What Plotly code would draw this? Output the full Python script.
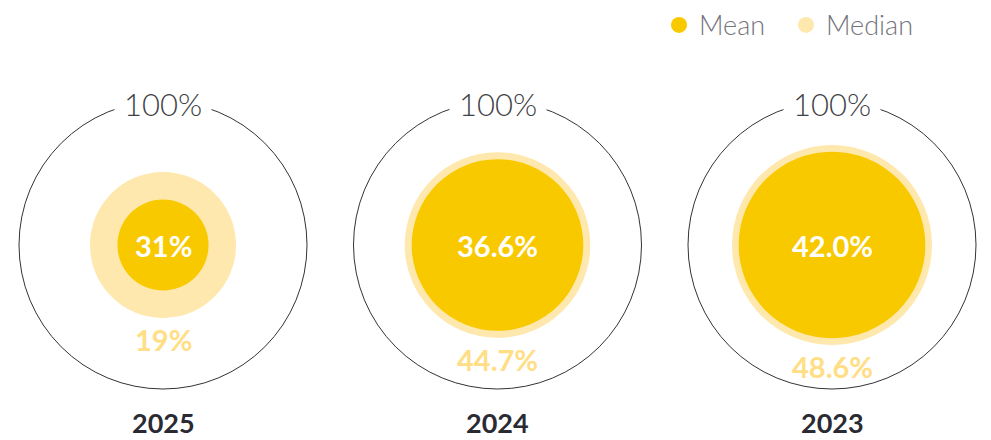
import math
import plotly.graph_objects as go

# ---- data ----
years = ["2025", "2024", "2023"]
mean_values = [31, 36.6, 42.0]          # labelled mean (%)
median_values = [19, 44.7, 48.6]        # labelled median (%)
mean_labels = ["31%", "36.6%", "42.0%"]
median_labels = ["19%", "44.7%", "48.6%"]
total_value = [100, 100, 100]
total_labels = ["100%", "100%", "100%"]
# circle areas as drawn in the source (2025 circles are not drawn to their labels)
mean_drawn = [10.0, 35.5, 42.0]
median_drawn = [25.7, 41.5, 48.2]

MEAN_COLOR = "#F9C900"
MEDIAN_COLOR = "#FFE8AD"
MEDIAN_TEXT = "#FFDE85"
DARK = "#2A2A33"

x = list(range(len(years)))
OUTER_R = 144.0
sizeref = max(total_value) / (2 * OUTER_R ** 2)

fig = go.Figure()

# outer 100% ring
fig.add_trace(go.Scatter(
    x=x, y=[0] * len(x), mode="markers", showlegend=False, hoverinfo="skip",
    marker=dict(size=total_value, sizemode="area", sizeref=sizeref, opacity=1,
                color="rgba(0,0,0,0)", line=dict(color="#333338", width=1)),
))
# median circle
fig.add_trace(go.Scatter(
    x=x, y=[0] * len(x), mode="markers", showlegend=False, hoverinfo="skip",
    marker=dict(size=median_drawn, sizemode="area", sizeref=sizeref, opacity=1,
                color=MEDIAN_COLOR, line=dict(width=0)),
))
# mean circle
fig.add_trace(go.Scatter(
    x=x, y=[0] * len(x), mode="markers", showlegend=False, hoverinfo="skip",
    marker=dict(size=mean_drawn, sizemode="area", sizeref=sizeref, opacity=1,
                color=MEAN_COLOR, line=dict(width=0)),
))

# legend entries
fig.add_trace(go.Scatter(x=[None], y=[None], mode="markers", name="Mean",
                         marker=dict(size=20, color=MEAN_COLOR, opacity=1)))
fig.add_trace(go.Scatter(x=[None], y=[None], mode="markers", name="Median",
                         marker=dict(size=20, color=MEDIAN_COLOR, opacity=1)))

BOLD = dict(family="Lato", weight=700)
LIGHT = dict(family="Lato", weight=300)

for i in x:
    # median label sits just under the median circle
    r_med = OUTER_R * math.sqrt(median_drawn[i] / max(total_value))
    fig.add_annotation(x=i, y=141, text=total_labels[i], showarrow=False,
                       font=dict(size=31, color="#3F3F47", **LIGHT),
                       bgcolor="white", borderpad=9, yanchor="middle")
    fig.add_annotation(x=i, y=0, text=mean_labels[i], showarrow=False,
                       font=dict(size=29, color="white", **BOLD), yanchor="middle")
    fig.add_annotation(x=i, y=-(r_med + 21.5), text=median_labels[i], showarrow=False,
                       font=dict(size=29, color=MEDIAN_TEXT, **BOLD), yanchor="middle")
    fig.add_annotation(x=i, y=-177, text=years[i], showarrow=False,
                       font=dict(size=27, color=DARK, **BOLD), yanchor="middle")

spacing = 334.5
W, H = 991, 440
x0 = -163 / spacing
fig.update_layout(
    width=W, height=H,
    margin=dict(l=0, r=0, t=0, b=0, autoexpand=False),
    paper_bgcolor="white", plot_bgcolor="white",
    xaxis=dict(range=[x0, x0 + W / spacing], visible=False, fixedrange=True),
    yaxis=dict(range=[-(H - 245), 245], visible=False, fixedrange=True),
    showlegend=True,
    legend=dict(orientation="h", x=0.665, xanchor="left", y=0.998, yanchor="top",
                font=dict(size=27, color="#74747C", **LIGHT),
                itemsizing="trace", bgcolor="rgba(0,0,0,0)",
                entrywidth=82, entrywidthmode="pixels"),
    hovermode=False,
)

fig.write_html("out.html")
